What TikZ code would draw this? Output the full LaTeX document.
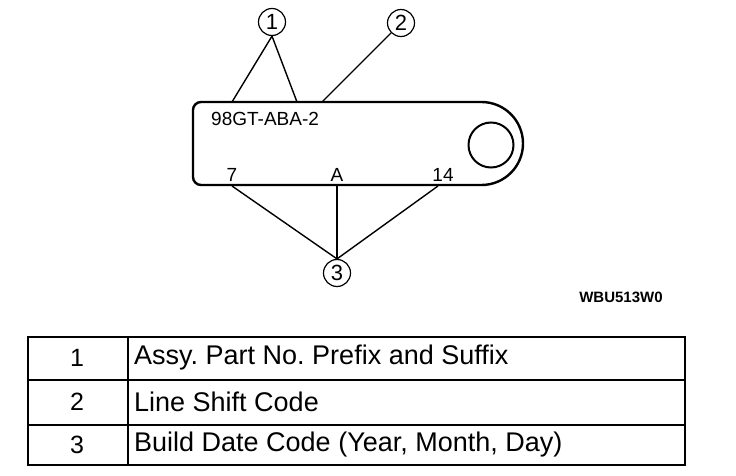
\documentclass[tikz,border=0pt]{standalone}
\usepackage{fontspec}
\setmainfont{Liberation Sans}
\begin{document}
\frenchspacing
\begin{tikzpicture}[x=1pt,y=-1pt,
  callout/.style={draw,circle,line width=1.2pt,minimum size=27pt,inner sep=0pt,font=\fontsize{22}{22}\selectfont},
  leader/.style={line width=1.4pt},
  platetxt/.style={inner sep=0pt,font=\fontsize{19}{19}\selectfont},
  cell/.style={inner sep=0pt,anchor=west,font=\fontsize{27}{27}\selectfont},
  num/.style={inner sep=0pt,font=\fontsize{25}{25}\selectfont}]
\useasboundingbox (0,0) rectangle (736,476);
% plate
\draw[line width=2.4pt] (201,102) -- (481.5,102) arc[start angle=-90,end angle=90,radius=41.5] -- (201,185) arc[start angle=90,end angle=180,radius=8] -- (193,110) arc[start angle=180,end angle=270,radius=8] -- cycle;
\node[draw,circle,line width=2pt,minimum size=45pt,inner sep=0pt] (hole) at (491,145) {};
\node[platetxt,anchor=west] (pn) at (211,119) {98GT-ABA-2};
\node[platetxt] (t7) at (232,175) {7};
\node[platetxt] (tA) at (337,175) {A};
\node[platetxt] (t14) at (443,175) {14};
% callouts
\node[callout] (c1) at (272,22) {1};
\node[callout] (c2) at (401,23) {2};
\node[callout] (c3) at (337,273) {3};
\coordinate (p1a) at (232,102);
\coordinate (p1b) at (297,102);
\coordinate (p2) at (322,102);
\coordinate (b7) at (232,186);
\coordinate (bA) at (337,186);
\coordinate (b14) at (438,186);
\draw[leader] (p1a) -- (c1.south) -- (p1b);
\draw[leader] (p2) -- (c2.225);
\draw[leader] (b7) -- (c3.north) -- (b14);
\draw[leader] (bA) -- (c3.north);
% code
\node[inner sep=0pt,font=\bfseries\fontsize{15}{15}\selectfont] (code) at (621,297) {WBU513W0};
% table
\draw[line width=2.2pt] (28,337) rectangle (685,465);
\draw[line width=1.8pt] (28,380) -- (685,380) (28,425) -- (685,425) (128,337) -- (128,465);
\node[num] (n1) at (77,358) {1};
\node[num] (n2) at (77,402) {2};
\node[num] (n3) at (77,445) {3};
\node[cell] (d1) at (134,358) {Assy. Part No. Prefix and Suffix};
\node[cell] (d2) at (134,402) {Line Shift Code};
\node[cell] (d3) at (134,445) {Build Date Code (Year, Month, Day)};
\end{tikzpicture}
\end{document}
